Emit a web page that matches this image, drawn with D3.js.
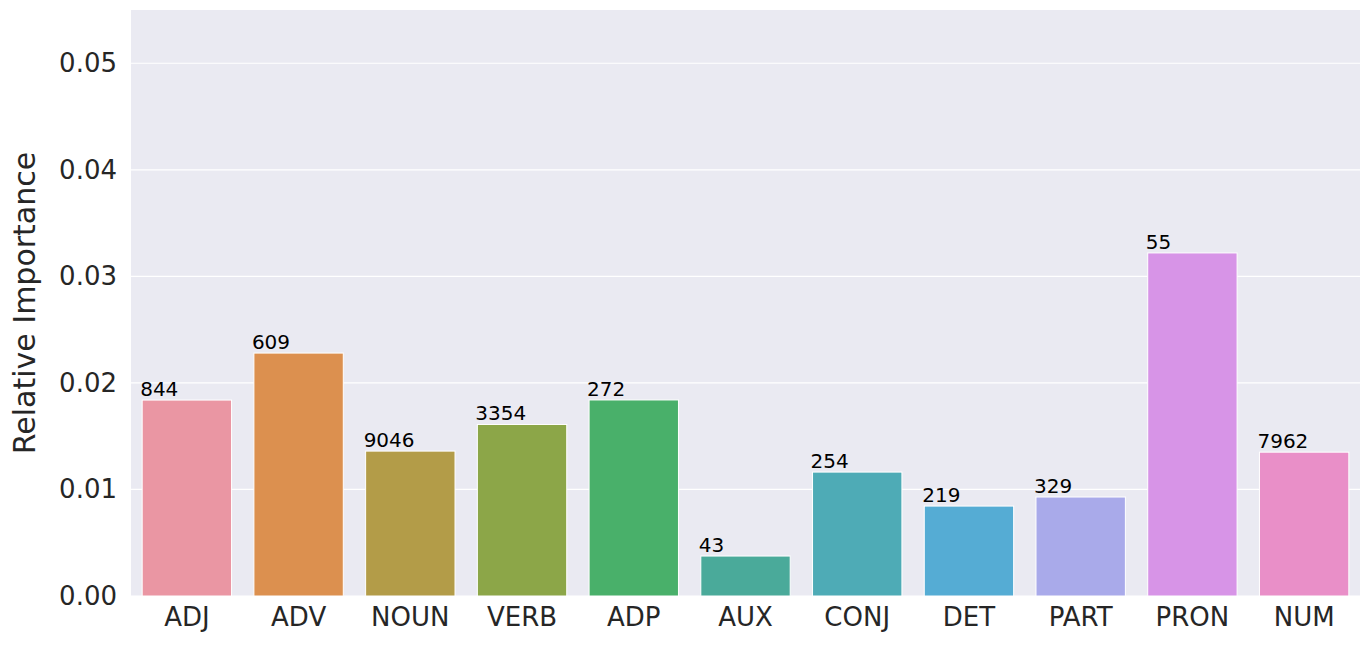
<!DOCTYPE html>
<html><head><meta charset="utf-8">
<script src="https://cdn.jsdelivr.net/npm/d3@7"></script>
<style>body{margin:0;background:#fff;font-family:"DejaVu Sans",sans-serif}</style>
</head><body><div id="chart"></div>
<script>
const categories = ["ADJ","ADV","NOUN","VERB","ADP","AUX","CONJ","DET","PART","PRON","NUM"];
const values = [0.01839,0.0228,0.0136,0.0161,0.0184,0.00375,0.01163,0.00844,0.00929,0.0322,0.0135];
const counts = ["844","609","9046","3354","272","43","254","219","329","55","7962"];
const colors = ["#ea96a3","#dc904f","#b39c48","#8ca648","#49b06a","#4aaa9a","#4eabb6","#55acd4","#a9aaea","#d794e7","#e98fc8"];
const yTicks = [0,0.01,0.02,0.03,0.04,0.05];

const W = 1367, H = 648;
const m = {left:131, right:7, top:10, bottom:52};
const svg = d3.select("#chart").append("svg").attr("width",W).attr("height",H);
const x = d3.scaleBand().domain(categories).range([m.left, W-m.right]).paddingInner(0.2).paddingOuter(0.1);
const y = d3.scaleLinear().domain([0,0.055]).range([H-m.bottom, m.top]);

svg.append("rect").attr("x",m.left).attr("y",m.top).attr("width",W-m.left-m.right).attr("height",H-m.top-m.bottom).attr("fill","#eaeaf2");
svg.selectAll(".grid").data(yTicks).enter().append("line")
  .attr("x1",m.left).attr("x2",W-m.right).attr("y1",d=>y(d)).attr("y2",d=>y(d))
  .attr("stroke","#fff").attr("stroke-width",1.2);

svg.selectAll(".bar").data(values).enter().append("rect")
  .attr("x",(d,i)=>x(categories[i])).attr("y",d=>y(d))
  .attr("width",x.bandwidth()).attr("height",d=>y(0)-y(d))
  .attr("fill",(d,i)=>colors[i]).attr("stroke","#fff").attr("stroke-width",1);

svg.selectAll(".lbl").data(values).enter().append("text")
  .attr("x",(d,i)=>x(categories[i])-2).attr("y",d=>y(d)-4)
  .attr("font-size",20).attr("fill","#000").text((d,i)=>counts[i]);

const xa = svg.append("g").attr("transform",`translate(0,${H-m.bottom})`).call(d3.axisBottom(x).tickSize(0).tickPadding(12));
xa.select(".domain").remove();
xa.selectAll("text").attr("font-size",26).attr("fill","#262626").attr("font-family","DejaVu Sans");

const ya = svg.append("g").attr("transform",`translate(${m.left},0)`).call(d3.axisLeft(y).tickValues(yTicks).tickFormat(d3.format(".2f")).tickSize(0).tickPadding(14));
ya.select(".domain").remove();
ya.selectAll("text").attr("font-size",26).attr("fill","#262626").attr("font-family","DejaVu Sans");

svg.append("text").attr("transform",`translate(35,${(m.top+H-m.bottom)/2}) rotate(-90)`)
  .attr("text-anchor","middle").attr("font-size",30).attr("fill","#262626").text("Relative Importance");
</script></body></html>
